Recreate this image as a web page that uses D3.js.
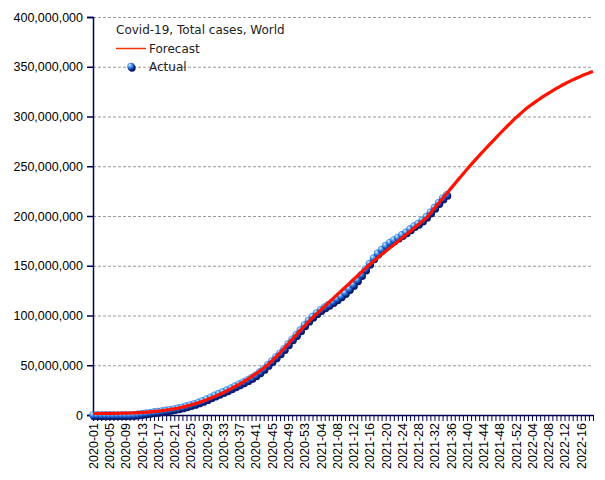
<!DOCTYPE html>
<html>
<head>
<meta charset="utf-8">
<script src="https://cdn.jsdelivr.net/npm/d3@7/dist/d3.min.js"></script>
<style>
  html, body { margin: 0; padding: 0; background: #fff; }
  svg { display: block; }
</style>
</head>
<body>
<svg id="chart" width="605" height="480"></svg>
<script>
// ---- DATA ----
const weeks = [
  "2020-01","2020-02","2020-03","2020-04","2020-05","2020-06","2020-07","2020-08","2020-09","2020-10",
  "2020-11","2020-12","2020-13","2020-14","2020-15","2020-16","2020-17","2020-18","2020-19","2020-20",
  "2020-21","2020-22","2020-23","2020-24","2020-25","2020-26","2020-27","2020-28","2020-29","2020-30",
  "2020-31","2020-32","2020-33","2020-34","2020-35","2020-36","2020-37","2020-38","2020-39","2020-40",
  "2020-41","2020-42","2020-43","2020-44","2020-45","2020-46","2020-47","2020-48","2020-49","2020-50",
  "2020-51","2020-52","2020-53",
  "2021-01","2021-02","2021-03","2021-04","2021-05","2021-06","2021-07","2021-08","2021-09","2021-10",
  "2021-11","2021-12","2021-13","2021-14","2021-15","2021-16","2021-17","2021-18","2021-19","2021-20",
  "2021-21","2021-22","2021-23","2021-24","2021-25","2021-26","2021-27","2021-28","2021-29","2021-30",
  "2021-31","2021-32","2021-33","2021-34","2021-35","2021-36","2021-37","2021-38","2021-39","2021-40",
  "2021-41","2021-42","2021-43","2021-44","2021-45","2021-46","2021-47","2021-48","2021-49","2021-50",
  "2021-51","2021-52",
  "2022-01","2022-02","2022-03","2022-04","2022-05","2022-06","2022-07","2022-08","2022-09","2022-10",
  "2022-11","2022-12","2022-13","2022-14","2022-15","2022-16","2022-17","2022-18","2022-19"
];

// Labelled x ticks (every 4th week)
const xTickLabels = [
  "2020-01","2020-05","2020-09","2020-13","2020-17","2020-21","2020-25","2020-29","2020-33","2020-37",
  "2020-41","2020-45","2020-49","2020-53","2021-04","2021-08","2021-12","2021-16","2021-20","2021-24",
  "2021-28","2021-32","2021-36","2021-40","2021-44","2021-48","2021-52","2022-04","2022-08","2022-12","2022-16"
];

// y tick values (millions)
const yTicks = [0, 50, 100, 150, 200, 250, 300, 350, 400];

// Actual cumulative cases, millions (2020-01 .. 2021-35)
const actual = [
  0.0, 0.0, 0.002, 0.017, 0.040, 0.069, 0.078, 0.086, 0.109, 0.167,
  0.337, 0.72, 1.27, 1.85, 2.41, 2.97, 3.5, 4.1, 4.7, 5.4,
  6.2, 7.0, 7.9, 9.0, 10.2, 11.4, 12.9, 14.4, 16.2, 18.0,
  19.8, 21.6, 23.4, 25.2, 27.2, 29.2, 31.2, 33.2, 35.3, 37.5,
  40.1, 43.2, 46.6, 50.6, 54.4, 58.3, 62.2, 66.6, 71.3, 76.3,
  80.6, 85.5, 90.5, 95.1, 99.0, 102.6, 105.8, 108.5, 111.0, 113.7,
  116.5, 119.5, 122.8, 126.8, 131.0, 135.6, 140.9, 146.5, 152.3, 157.8,
  162.5, 166.4, 170.3, 173.4, 176.0, 178.5, 181.1, 183.8, 186.9, 190.1,
  192.5, 195.8, 199.5, 203.8, 208.5, 213.3, 217.8, 221.5
];

// Forecast cumulative cases, millions (2020-01 .. 2022-19)
const forecast = [
  1.5, 1.5, 1.5, 1.6, 1.6, 1.7, 1.7, 1.8, 1.9, 2.0,
  2.1, 2.3, 2.5, 2.8, 3.1, 3.5, 3.9, 4.4, 4.9, 5.5,
  6.2, 7.0, 7.9, 8.9, 10.0, 11.2, 12.5, 13.9, 15.4, 17.0,
  18.7, 20.5, 22.4, 24.4, 26.5, 28.7, 31.0, 33.4, 35.9, 38.6,
  41.3, 44.2, 47.3, 50.6, 54.3, 58.3, 62.5, 66.9, 71.4, 76.0,
  80.5, 85.0, 89.4, 93.7, 97.9, 101.7, 105.5, 109.3, 113.1, 116.9,
  120.7, 124.5, 128.3, 132.1, 135.9, 139.7, 143.5, 147.3, 151.0, 154.5,
  157.9, 161.3, 164.6, 167.9, 171.2, 174.5, 177.8, 181.1, 184.5, 187.9,
  191.3, 194.7, 198.2, 203.0, 207.9, 212.8, 217.7, 222.6, 227.5, 232.4,
  237.3, 242.1, 246.9, 251.6, 256.2, 260.7, 265.1, 269.5, 273.8, 278.1,
  282.4, 286.6, 290.7, 294.7, 298.6, 302.3, 305.9, 309.2, 312.3, 315.2,
  318.0, 320.7, 323.3, 325.8, 328.2, 330.5, 332.7, 334.8, 336.8, 338.7,
  340.5, 342.2, 343.8, 345.3
];

const legendTitle = "Covid-19, Total cases, World";
const seriesNames = ["Forecast", "Actual"];

// ---- LAYOUT ----
const svg = d3.select("#chart");
const mLeft = 93, mRight = 593, mTop = 17, mBottom = 415;
const axisColor = "#000050";
const markerR = 3.7;

const x = d3.scalePoint().domain(weeks).range([mLeft, mRight]);
const y = d3.scaleLinear().domain([0, 400]).range([mBottom, mTop]);

// defs: sphere gradient
const defs = svg.append("defs");
const grad = defs.append("radialGradient")
  .attr("id", "sphere").attr("cx", "40%").attr("cy", "38%").attr("r", "60%")
  .attr("fx", "32%").attr("fy", "30%");
grad.append("stop").attr("offset", "0%").attr("stop-color", "#e6f4ff");
grad.append("stop").attr("offset", "30%").attr("stop-color", "#6fb4f5");
grad.append("stop").attr("offset", "70%").attr("stop-color", "#1f63d0");
grad.append("stop").attr("offset", "100%").attr("stop-color", "#0b2a8a");

// gridlines
svg.append("g")
  .selectAll("line")
  .data(yTicks.filter(d => d > 0))
  .join("line")
  .attr("x1", mLeft).attr("x2", mRight)
  .attr("y1", d => y(d) + 0.5).attr("y2", d => y(d) + 0.5)
  .attr("stroke", "#9a9a9a")
  .attr("stroke-width", 1)
  .attr("stroke-dasharray", "3,2");

// y axis
const yAxis = d3.axisLeft(y)
  .tickValues(yTicks)
  .tickSize(6)
  .tickPadding(4)
  .tickFormat(d => d3.format(",")(d * 1e6));
const gy = svg.append("g").attr("transform", `translate(${mLeft},0)`).call(yAxis);
gy.select(".domain").attr("stroke", axisColor).attr("stroke-width", 1.5);
gy.selectAll(".tick line").attr("stroke", axisColor).attr("stroke-width", 1.5);
gy.selectAll(".tick text")
  .attr("fill", "#000")
  .style("font-family", "'Liberation Sans', Arial, sans-serif")
  .style("font-size", "12.5px");

// x axis
const xAxis = d3.axisBottom(x)
  .tickSize(6)
  .tickSizeOuter(0)
  .tickFormat(d => xTickLabels.includes(d) ? d : "");
const gx = svg.append("g").attr("transform", `translate(0,${mBottom})`).call(xAxis);
gx.select(".domain").attr("stroke", axisColor).attr("stroke-width", 1.5);
gx.selectAll(".tick line").attr("stroke", axisColor).attr("stroke-width", 1);
gx.selectAll(".tick text")
  .attr("fill", "#000")
  .style("font-family", "'Liberation Sans', Arial, sans-serif")
  .style("font-size", "12.5px")
  .attr("text-anchor", "end")
  .attr("transform", "rotate(-90)")
  .attr("x", -8)
  .attr("y", 0)
  .attr("dy", "0.35em");

// actual markers
const pts = svg.append("g");
pts.selectAll("circle.shadow")
  .data(actual)
  .join("circle")
  .attr("class", "shadow")
  .attr("cx", (d, i) => x(weeks[i]) + 1)
  .attr("cy", d => y(d) + 1.5)
  .attr("r", markerR)
  .attr("fill", "#0a1a6a");
pts.selectAll("circle.ball")
  .data(actual)
  .join("circle")
  .attr("class", "ball")
  .attr("cx", (d, i) => x(weeks[i]))
  .attr("cy", d => y(d))
  .attr("r", markerR)
  .attr("fill", "url(#sphere)");

// forecast line
const line = d3.line()
  .x((d, i) => x(weeks[i]))
  .y(d => y(d))
  .curve(d3.curveMonotoneX);
svg.append("path")
  .datum(forecast)
  .attr("d", line)
  .attr("fill", "none")
  .attr("stroke", "#ff1200")
  .attr("stroke-width", 3.2)
  .attr("stroke-linejoin", "round");

// legend
const lg = svg.append("g")
  .style("font-family", "'DejaVu Sans', Verdana, sans-serif")
  .style("font-size", "12px")
  .attr("fill", "#222");
lg.append("text").attr("x", 116).attr("y", 34).text(legendTitle);
lg.append("line")
  .attr("x1", 116).attr("x2", 146).attr("y1", 48.5).attr("y2", 48.5)
  .attr("stroke", "#ff3300").attr("stroke-width", 1.5);
lg.append("text").attr("x", 149).attr("y", 53).text(seriesNames[0]);
lg.append("circle").attr("cx", 132).attr("cy", 68).attr("r", markerR).attr("fill", "#0a1a6a");
lg.append("circle").attr("cx", 131).attr("cy", 66.5).attr("r", markerR).attr("fill", "url(#sphere)");
lg.append("text").attr("x", 149).attr("y", 71).text(seriesNames[1]);
</script>
</body>
</html>
